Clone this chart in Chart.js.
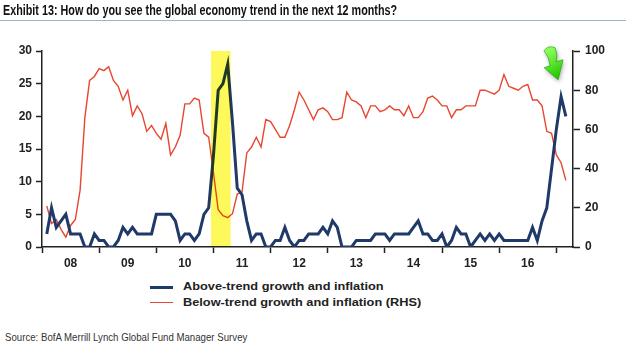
<!DOCTYPE html>
<html lang="en">
<head>
<meta charset="UTF-8">
<title>Exhibit 13: global economy trend</title>
<script src="https://cdn.jsdelivr.net/npm/chart.js"></script>
<style>
  body { margin: 0; background: #fff; }
  #wrap { position: relative; width: 626px; height: 347px; overflow: hidden; }
  #title {
    position: absolute; left: 0; top: 0; width: 626px; height: 21px;
    box-sizing: border-box; padding-left: 3px;
    border-bottom: 1px solid #9db0cc;
    font: bold 14px 'Liberation Sans Narrow', 'Liberation Sans', sans-serif;
    line-height: 21px; color: #111; white-space: nowrap;
  }
  #title span, #source span { display: inline-block; transform-origin: left center; }
  #title span { transform: scaleX(0.77); }
  #chartBox { position: absolute; left: 0; top: 0; width: 626px; height: 275px; }
  .leg { position: absolute; left: 150px; height: 14px; white-space: nowrap; }
  .leg .swatch { position: absolute; left: 0; width: 23px; }
  .leg .txt {
    position: absolute; left: 33px; top: 0; line-height: 14px;
    font: bold 11px 'Liberation Sans', Arial, sans-serif; color: #222;
    transform: scaleX(1.16); transform-origin: left center;
  }
  #source {
    position: absolute; left: 5px; top: 331px; white-space: nowrap;
    font: 11.5px 'Liberation Sans', sans-serif; color: #333;
  }
  #source span { transform: scaleX(0.84); }
</style>
</head>
<body>
<div id="wrap">
  <div id="chartBox"><canvas id="chart"></canvas></div>
  <div id="title"><span>Exhibit 13: How do you see the global economy trend in the next 12 months?</span></div>
  <div id="legend"></div>
  <div id="source"><span>Source: BofA Merrill Lynch Global Fund Manager Survey</span></div>
</div>

<script>
// Monthly survey readings, Feb 2008 .. Mar 2017 (x = months since Jan 2008)
const firstMonth = 1;
const aboveTrend = [
  2, 6, 3, 4, 5, 2, 2, 2, 0, 0, 2, 1, 1, 0, 0, 1, 3, 2, 3, 2,
  2, 2, 2, 5, 5, 5, 5, 4, 1, 2, 2, 1, 2, 5, 6, 14, 24, 25, 28, 19,
  9, 8, 4, 1, 2, 2, 0, 0, 1, 1, 3, 1, 0, 1, 1, 2, 2, 2, 3, 2,
  4, 3, 0, 0, 0, 1, 1, 1, 1, 2, 2, 2, 1, 2, 2, 2, 2, 3, 4, 2,
  2, 1, 1, 2, 0, 1, 3, 2, 2, 0, 1, 2, 1, 2, 1, 2, 1, 1, 1, 1,
  1, 1, 3, 1, 4, 6, 12, 18, 23, 20
];
const belowTrend = [
  21, 12, 14, 9, 5, 11, 14, 29, 66, 85, 87, 91, 90, 92, 85, 82, 75, 80, 67, 72,
  68, 59, 62, 58, 55, 63, 47, 51, 57, 73, 73, 76, 75, 58, 56, 38, 19, 16, 15, 17,
  27, 28, 48, 51, 56, 51, 65, 64, 60, 56, 56, 62, 70, 79, 75, 70, 65, 70, 71, 69,
  65, 65, 66, 79, 75, 74, 72, 66, 72, 72, 69, 70, 72, 70, 70, 67, 72, 66, 66, 69,
  76, 77, 75, 72, 72, 66, 70, 70, 72, 72, 72, 80, 80, 79, 78, 80, 88, 82, 81, 80,
  82, 83, 75, 75, 72, 59, 58, 47, 43, 34
];
const seriesNames = ['Above-trend growth and inflation', 'Below-trend growth and inflation (RHS)'];
const yearLabels = ['08', '09', '10', '11', '12', '13', '14', '15', '16'];
const leftTicks = [0, 5, 10, 15, 20, 25, 30];
const rightTicks = [0, 20, 40, 60, 80, 100];
const highlightMonths = [35.5, 39.6];   // late 2010 - early 2011 spike
const arrowIndex = 107;                 // latest peak

const blue = '#1f3a68';
const red = '#e8462e';
const axisColor = '#222';
const tickFont = { family: "'Liberation Sans', Arial, sans-serif", size: 12, weight: 'bold' };

const toPoints = arr => arr.map((v, i) => ({ x: firstMonth + i, y: v }));

// yellow box, multiplied over the lines like a highlighter
const highlightPlugin = {
  id: 'highlight',
  afterDatasetsDraw(chart) {
    const { ctx, scales } = chart;
    const x = scales.x, y = scales.y;
    const left = x.getPixelForValue(highlightMonths[0]);
    const right = x.getPixelForValue(highlightMonths[1]);
    ctx.save();
    ctx.globalCompositeOperation = 'multiply';
    ctx.fillStyle = '#fdf95a';
    ctx.fillRect(left, y.top, right - left, y.bottom - y.top);
    ctx.restore();
  }
};

// green arrow pointing at the latest peak
const arrowPlugin = {
  id: 'arrow',
  afterDraw(chart) {
    const pt = chart.getDatasetMeta(0).data[arrowIndex + 1];
    if (!pt) return;
    const ctx = chart.ctx;
    ctx.save();
    ctx.translate(pt.x - 3, pt.y - 17);
    ctx.shadowColor = 'rgba(0,0,0,0.35)';
    ctx.shadowBlur = 4;
    ctx.shadowOffsetX = 1;
    ctx.shadowOffsetY = 2;
    ctx.beginPath();
    ctx.moveTo(0, 0);
    ctx.lineTo(-14, -12);
    ctx.lineTo(-8, -14);
    ctx.quadraticCurveTo(-9, -23, -14, -29);
    ctx.quadraticCurveTo(-10, -35, -3, -32);
    ctx.quadraticCurveTo(0, -25, -2, -18);
    ctx.lineTo(5, -20);
    ctx.closePath();
    const g = ctx.createLinearGradient(-10, -30, 3, -4);
    g.addColorStop(0, '#8dff5a');
    g.addColorStop(1, '#22c800');
    ctx.fillStyle = g;
    ctx.fill();
    ctx.shadowColor = 'transparent';
    ctx.strokeStyle = '#1a9a00';
    ctx.lineWidth = 0.6;
    ctx.stroke();
    ctx.restore();
  }
};

const tickMark = (c, show) => (show ? axisColor : 'rgba(0,0,0,0)');

const chart = new Chart(document.getElementById('chart'), {
  type: 'line',
  data: {
    datasets: [
      {
        label: seriesNames[0],
        data: toPoints(aboveTrend),
        borderColor: blue,
        borderWidth: 3,
        pointRadius: 0,
        tension: 0,
        yAxisID: 'y'
      },
      {
        label: seriesNames[1],
        data: toPoints(belowTrend),
        borderColor: red,
        borderWidth: 1.4,
        pointRadius: 0,
        tension: 0,
        yAxisID: 'y2'
      }
    ]
  },
  options: {
    responsive: true,
    maintainAspectRatio: false,
    animation: false,
    layout: { padding: { top: 51, left: 0, right: 0, bottom: 0 } },
    plugins: { legend: { display: false }, tooltip: { enabled: false } },
    scales: {
      x: {
        type: 'linear',
        min: 0,
        max: 111.5,
        afterBuildTicks: s => {
          s.ticks = [];
          for (let v = 0; v <= 108; v += 6) s.ticks.push({ value: v });
        },
        afterFit: s => { s.height = 28; },
        grid: {
          drawOnChartArea: false,
          tickLength: 6,
          tickWidth: 1.5,
          tickColor: c => tickMark(c, c.tick && c.tick.value % 12 === 0)
        },
        border: { display: true, color: axisColor, width: 1.5 },
        ticks: {
          autoSkip: false,
          maxRotation: 0,
          padding: 3,
          color: '#222',
          font: tickFont,
          callback: v => (v % 12 === 6 ? yearLabels[(v - 6) / 12] : '')
        }
      },
      y: {
        position: 'left',
        min: 0,
        max: 30,
        afterBuildTicks: s => { s.ticks = leftTicks.map(v => ({ value: v })); },
        afterFit: s => { s.width = 42; },
        grid: { drawOnChartArea: false, tickLength: 6, tickWidth: 1.5, tickColor: axisColor },
        border: { display: true, color: axisColor, width: 1.5 },
        ticks: { padding: 4, color: '#222', font: tickFont }
      },
      y2: {
        position: 'right',
        min: 0,
        max: 100,
        afterBuildTicks: s => { s.ticks = rightTicks.map(v => ({ value: v })); },
        afterFit: s => { s.width = 53; },
        grid: { drawOnChartArea: false, tickLength: 7, tickWidth: 1.5, tickColor: axisColor },
        border: { display: true, color: axisColor, width: 1.5 },
        ticks: { padding: 5, color: '#222', font: tickFont }
      }
    }
  },
  plugins: [highlightPlugin, arrowPlugin]
});

// html legend built from the chart's datasets
const legendRows = [287, 302.5];
chart.data.datasets.forEach((ds, i) => {
  const row = document.createElement('div');
  row.className = 'leg';
  row.style.top = (legendRows[i] - 7) + 'px';
  const sw = document.createElement('span');
  sw.className = 'swatch';
  sw.style.height = ds.borderWidth + 'px';
  sw.style.top = (7 - ds.borderWidth / 2) + 'px';
  sw.style.background = ds.borderColor;
  const txt = document.createElement('span');
  txt.className = 'txt';
  txt.textContent = ds.label;
  row.appendChild(sw);
  row.appendChild(txt);
  document.getElementById('legend').appendChild(row);
});
</script>
</body>
</html>
